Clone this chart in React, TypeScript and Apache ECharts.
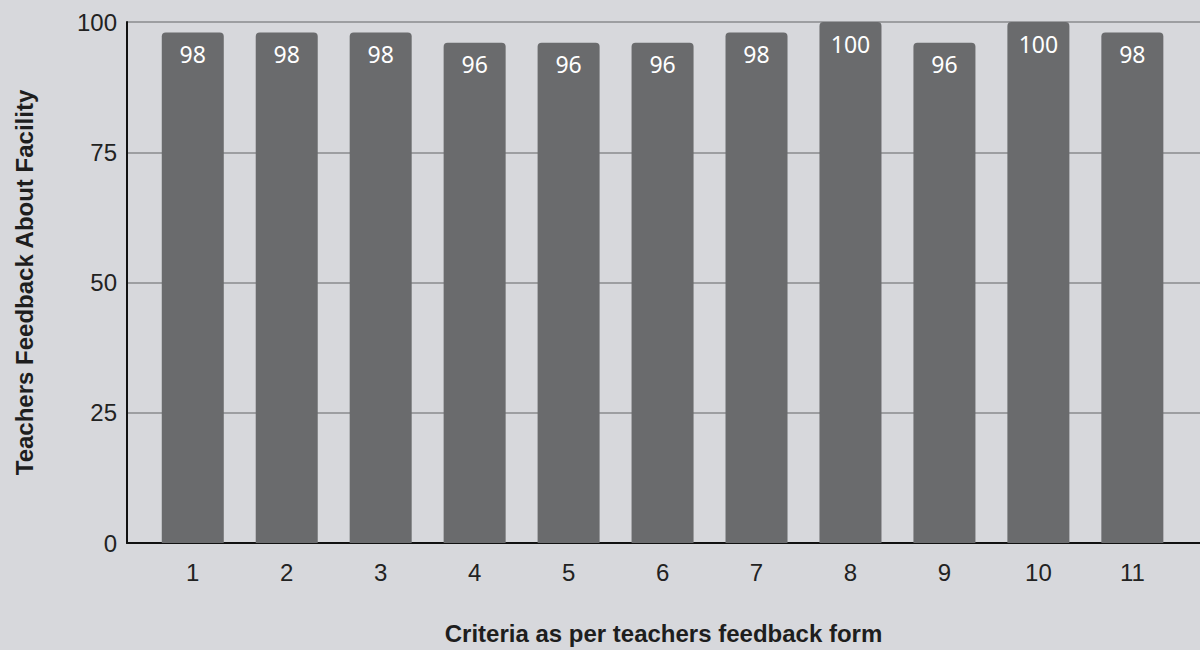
import React, { useEffect, useRef } from "react";
import * as echarts from "echarts";

const categories = [1, 2, 3, 4, 5, 6, 7, 8, 9, 10, 11];
const values = [98, 98, 98, 96, 96, 96, 98, 100, 96, 100, 98];
const yTicks = [0, 25, 50, 75, 100];

export default function App() {
  const ref = useRef<HTMLDivElement>(null);
  useEffect(() => {
    document.body.style.margin = "0";
    const chart = echarts.init(ref.current!, null, { renderer: "svg" });
    chart.setOption({
      animation: false,
      backgroundColor: "#d7d8dc",
      grid: { left: 127, right: 0, top: 22, bottom: 107, outerBoundsMode: "none", containLabel: false },
      xAxis: {
        type: "value",
        min: 0.3,
        max: 11.72,
        name: "Criteria as per teachers feedback form",
        nameLocation: "middle",
        nameGap: 78,
        nameTextStyle: { fontFamily: "Liberation Sans", fontWeight: "bold", fontSize: 24, color: "#1e1e1e" },
        axisLine: { show: true, onZero: false, lineStyle: { color: "#111", width: 2 } },
        axisTick: { show: false },
        splitLine: { show: false },
        axisLabel: {
          customValues: categories,
          margin: 17,
          fontFamily: "Liberation Sans",
          fontSize: 24,
          color: "#222",
        },
      },
      yAxis: {
        type: "value",
        min: 0,
        max: 100,
        interval: 25,
        name: "Teachers Feedback About Facility",
        nameLocation: "middle",
        nameGap: 91,
        nameTextStyle: { fontFamily: "Liberation Sans", fontWeight: "bold", fontSize: 24, color: "#1e1e1e" },
        axisLine: { show: true, lineStyle: { color: "#111", width: 2 } },
        axisTick: { show: false },
        axisLabel: {
          customValues: yTicks,
          margin: 10,
          fontFamily: "Liberation Sans",
          fontSize: 24,
          color: "#222",
        },
        splitLine: { show: true, lineStyle: { color: "#8a8b8e", width: 1.5 } },
      },
      series: [
        {
          type: "bar",
          data: categories.map((c, i) => [c, values[i]]),
          barWidth: 62,
          itemStyle: { color: "#6a6b6d", borderRadius: [4, 4, 0, 0] },
          label: {
            show: true,
            position: "insideTop",
            distance: 10,
            formatter: (p: any) => String(p.value[1]),
            fontFamily: "Noto Sans",
            fontSize: 23,
            color: "#ffffff",
          },
        },
      ],
    });
    return () => chart.dispose();
  }, []);
  return <div ref={ref} style={{ width: 1200, height: 650 }} />;
}
